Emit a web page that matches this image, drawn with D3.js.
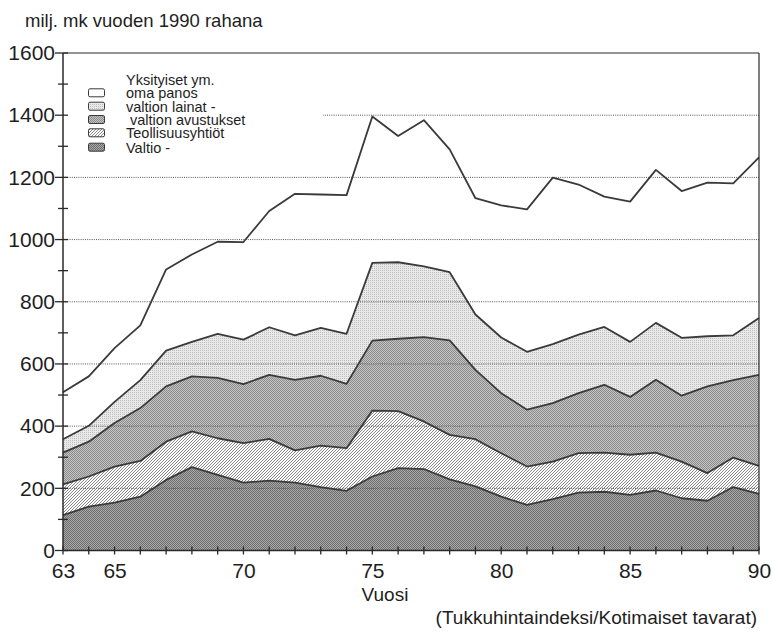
<!DOCTYPE html>
<html><head><meta charset="utf-8">
<script src="https://cdn.jsdelivr.net/npm/d3@7"></script>
<style>
body{margin:0;background:#fff}
text{font-family:"Liberation Sans",Arial,Helvetica,sans-serif;fill:#1e1e1e}
</style>
</head><body>
<svg id="chart" width="772" height="635"></svg>
<script>
// ---- data ----
const years = [63,64,65,66,67,68,69,70,71,72,73,74,75,76,77,78,79,80,81,82,83,84,85,86,87,88,89,90];
const valtio      = [114,141,154,173,227,268,243,218,225,218,204,192,238,265,262,229,206,173,147,165,186,189,179,193,168,160,204,182];
const teollisuus  = [ 99, 97,116,115,123,115,118,127,134,104,133,137,212,183,153,143,152,140,123,121,127,126,129,122,118, 89, 95, 90];
const avustukset  = [102,112,140,170,178,177,194,190,206,227,225,207,225,233,271,304,223,193,183,188,193,218,186,234,212,279,249,293];
const lainat      = [ 43, 51, 68, 90,115,111,142,143,153,143,154,161,250,246,228,219,178,179,186,190,188,186,177,183,186,161,144,183];
const yksityiset  = [151,159,173,176,261,281,296,314,374,455,429,446,471,406,470,395,374,425,458,535,483,419,451,492,472,494,489,516];
const seriesKeys  = ["valtio","teollisuus","avustukset","lainat","yksityiset"];
const legendTexts = ["Yksityiset ym.","oma panos","valtion lainat -"," valtion avustukset","Teollisuusyhtiöt","Valtio -"];
const legendKeys  = ["yksityiset","lainat","avustukset","teollisuus","valtio"];
const xLabelYears = [63,65,70,75,80,85,90];
const yMajorTicks = [0,200,400,600,800,1000,1200,1400,1600];
const yMinorTicks = [100,300,500,700,900,1100,1300,1500];
const titleText   = "milj. mk vuoden 1990 rahana";
const xTitle      = "Vuosi";
const footText    = "(Tukkuhintaindeksi/Kotimaiset tavarat)";

const table = years.map((y,i)=>({year:y, valtio:valtio[i], teollisuus:teollisuus[i],
  avustukset:avustukset[i], lainat:lainat[i], yksityiset:yksityiset[i]}));

// ---- layout ----
const L=63, R=759, T=53, B=550.5;
const svg = d3.select("#chart");
const x = d3.scaleLinear().domain([63,90]).range([L,R]);
const y = d3.scaleLinear().domain([0,1600]).range([B,T]);

// ---- patterns ----
const defs = svg.append("defs");
function dots(id, base, dot, both){
  const p = defs.append("pattern").attr("id",id).attr("patternUnits","userSpaceOnUse")
    .attr("width",2).attr("height",2);
  p.append("rect").attr("width",2).attr("height",2).attr("fill",base);
  p.append("rect").attr("x",0).attr("y",0).attr("width",1).attr("height",1).attr("fill",dot);
  if(both) p.append("rect").attr("x",1).attr("y",1).attr("width",1).attr("height",1).attr("fill",dot);
}
dots("pValtio","#a8a8a8","#6e6e6e",true);
dots("pAvust","#c4c4c4","#8c8c8c",true);
dots("pLainat","#e9e9e9","#bdbdbd",false);
const ph = defs.append("pattern").attr("id","pHatch").attr("patternUnits","userSpaceOnUse")
  .attr("width",3).attr("height",3);
ph.append("rect").attr("width",3).attr("height",3).attr("fill","#fff");
ph.append("path").attr("d","M-1,1 L1,-1 M0,3 L3,0 M2,4 L4,2").attr("stroke","#7a7a7a").attr("stroke-width",0.9);
const fills = {valtio:"url(#pValtio)", teollisuus:"url(#pHatch)", avustukset:"url(#pAvust)",
  lainat:"url(#pLainat)", yksityiset:"#ffffff"};

// ---- stacked areas ----
const stack = d3.stack().keys(seriesKeys)(table);
const area = d3.area().x(d=>x(d.data.year)).y0(d=>y(d[0])).y1(d=>y(d[1]));
const line = d3.line().x(d=>x(d.data.year)).y(d=>y(d[1]));
svg.append("g").selectAll("path").data(stack).join("path")
  .attr("d",area).attr("fill",d=>fills[d.key]);

// ---- gridlines (dotted, over fills) ----
svg.append("g").selectAll("line").data(yMajorTicks.filter(v=>v>0&&v<1600)).join("line")
  .attr("x1",L).attr("x2",R).attr("y1",d=>y(d)).attr("y2",d=>y(d))
  .attr("stroke","#555").attr("stroke-width",1).attr("stroke-dasharray","1,1.2");

// ---- boundary lines ----
svg.append("g").selectAll("path").data(stack).join("path")
  .attr("d",line).attr("fill","none").attr("stroke","#3a3a3a").attr("stroke-width",1.8)
  .attr("stroke-linejoin","round");

// ---- legend ----
svg.append("rect").attr("x",L+1).attr("y",62).attr("width",259).attr("height",102).attr("fill","#fff");
const legRowY = [85,98.3,111.7,125,138.3,152.7];
svg.append("g").selectAll("text").data(legendTexts).join("text")
  .attr("x",126).attr("y",(d,i)=>legRowY[i]).attr("font-size",14.5).attr("xml:space","preserve").text(d=>d);
svg.append("g").selectAll("rect").data(legendKeys).join("rect")
  .attr("x",88.5).attr("y",(d,i)=>legRowY[i+1]-9.5).attr("width",16).attr("height",8).attr("rx",1.5)
  .attr("fill",d=>fills[d]).attr("stroke","#3a3a3a").attr("stroke-width",1);

// ---- axes ----
const ax = svg.append("g").attr("stroke","#2a2a2a").attr("stroke-width",1.5);
ax.append("line").attr("x1",L).attr("x2",L).attr("y1",T).attr("y2",B);
ax.append("line").attr("x1",L).attr("x2",R).attr("y1",B).attr("y2",B);
ax.append("line").attr("x1",L).attr("x2",R).attr("y1",T).attr("y2",T).attr("stroke-width",1.2);
ax.append("line").attr("x1",R).attr("x2",R).attr("y1",T).attr("y2",B).attr("stroke-width",1.2);

const yAxis = d3.axisLeft(y).tickValues(yMajorTicks).tickSize(0).tickPadding(8).tickFormat(d3.format("d"));
const gy = svg.append("g").attr("transform",`translate(${L},0)`).call(yAxis);
gy.select(".domain").remove();
gy.selectAll("text").attr("font-size",21).attr("fill","#1e1e1e").attr("font-family",'"Liberation Sans",Arial,sans-serif');
svg.append("g").selectAll("line").data(yMajorTicks.concat(yMinorTicks)).join("line")
  .attr("x1",d=>yMajorTicks.includes(d)?L-8:L-5).attr("x2",L+5)
  .attr("y1",d=>y(d)).attr("y2",d=>y(d)).attr("stroke","#2a2a2a").attr("stroke-width",1.3);

const xAxis = d3.axisBottom(x).tickValues(xLabelYears).tickSize(0).tickPadding(13).tickFormat(d3.format("d"));
const gx = svg.append("g").attr("transform",`translate(0,${B})`).call(xAxis);
gx.select(".domain").remove();
gx.selectAll("text").attr("font-size",21).attr("fill","#1e1e1e").attr("font-family",'"Liberation Sans",Arial,sans-serif');
svg.append("g").selectAll("line").data(years).join("line")
  .attr("x1",d=>x(d)).attr("x2",d=>x(d)).attr("y1",B-4).attr("y2",B+4)
  .attr("stroke","#2a2a2a").attr("stroke-width",1.3);

// ---- titles ----
svg.append("text").attr("x",25).attr("y",27).attr("font-size",18.5).text(titleText);
svg.append("text").attr("x",(L+R)/2 - 26).attr("y",601).attr("text-anchor","middle").attr("font-size",19).text(xTitle);
svg.append("text").attr("x",757).attr("y",624).attr("text-anchor","end").attr("font-size",19).text(footText);
</script>
</body></html>
